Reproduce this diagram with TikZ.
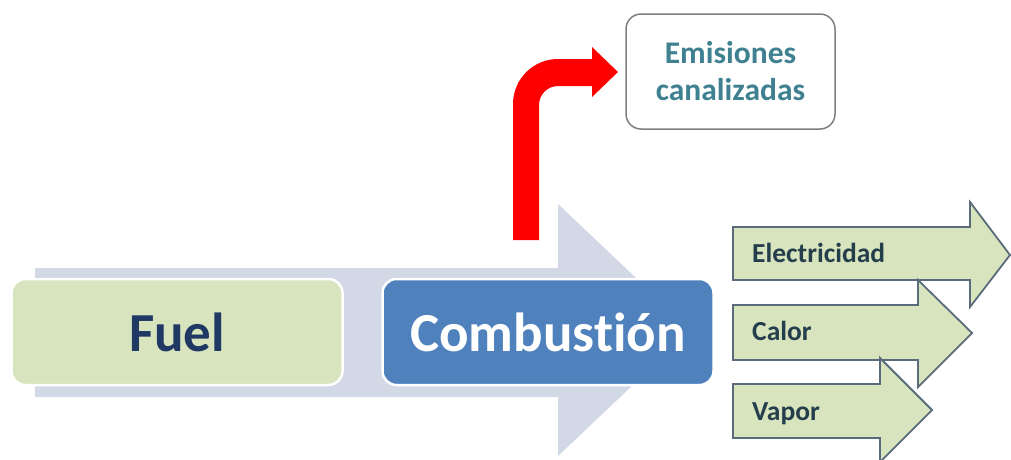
\documentclass[tikz,border=0pt]{standalone}
\usepackage{fontspec}
\setmainfont{Carlito}[Ligatures=NoCommon]
\definecolor{bigarrow}{HTML}{D3D8E7}
\definecolor{fuelgreen}{HTML}{D8E4BD}
\definecolor{combblue}{HTML}{4F81BD}
\definecolor{navy}{HTML}{1F3864}
\definecolor{teal}{HTML}{3F8190}
\definecolor{outgreen}{HTML}{D7E4BD}
\definecolor{outline}{HTML}{5A6B7B}
\definecolor{outtext}{HTML}{243E4C}
\definecolor{boxgrey}{HTML}{7F7F7F}
\tikzset{
  stagebox/.style={rounded corners=14pt, draw=white, line width=2.5pt, minimum width=331pt, minimum height=106pt, inner sep=0pt, font=\bfseries\fontsize{55}{60}\selectfont},
  outarrow/.style={fill=outgreen, draw=outline, line width=1.8pt, line join=miter},
  outlabel/.style={anchor=base west, inner sep=0pt, text=outtext, font=\bfseries\fontsize{27.5}{30}\selectfont},
}
\begin{document}
\begin{tikzpicture}[x=1pt,y=-1pt]
\useasboundingbox (0,0) rectangle (1011,459);
% big grey process arrow
\fill[bigarrow] (35,268) -- (558,268) -- (558,204) -- (691,330) -- (558,456) -- (558,397) -- (35,397) -- cycle;
% stage boxes
\node[stagebox, fill=fuelgreen, text=navy] (fuel) at (177,332) {Fuel};
\node[stagebox, fill=combblue, text=white] (comb) at (548,332) {Combustión};
% emissions box
\node[draw=boxgrey, line width=1.5pt, rounded corners=15pt, fill=white, minimum width=209pt, minimum height=115pt, inner sep=0pt, align=center, text=teal, font=\bfseries\fontsize{31.5}{37}\selectfont] (emis) at (730.5,71.5) {Emisiones\\canalizadas};
% red bent arrow
\fill[red] (513,240) -- (513,104) arc[start angle=180, end angle=90, radius=45pt] -- (592,59) -- (592,47) -- (618,72) -- (592,97) -- (592,86) -- (558,86) arc[start angle=90, end angle=180, radius=19pt] -- (539,240) -- cycle;
% output arrows
\draw[outarrow] (733,227) -- (970,227) -- (970,202) -- (1010,255) -- (970,307) -- (970,280) -- (733,280) -- cycle;
\node[outlabel] (elec) at (752,262) {Electricidad};
\draw[outarrow] (733,305) -- (918,305) -- (918,280) -- (972,333) -- (918,387) -- (918,360) -- (733,360) -- cycle;
\node[outlabel] (calor) at (752,340) {Calor};
\draw[outarrow] (733,384) -- (880,384) -- (880,358) -- (932,410) -- (880,462) -- (880,438) -- (733,438) -- cycle;
\node[outlabel] (vapor) at (752,420) {Vapor};
\end{tikzpicture}
\end{document}
